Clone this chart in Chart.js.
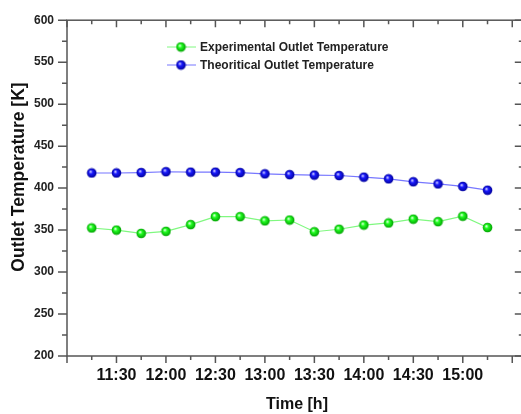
<!DOCTYPE html>
<html>
<head>
<meta charset="utf-8">
<script src="https://cdn.jsdelivr.net/npm/chart.js@4.4.0/dist/chart.umd.min.js"></script>
<style>
  html, body { margin: 0; padding: 0; background: #fff; overflow: hidden; }
  #wrap { width: 521px; height: 414px; overflow: hidden; }
</style>
</head>
<body>
<div id="wrap"><canvas id="myChart" width="529" height="414"></canvas></div>
<script>
// Outlet temperature vs time

const times = ['11:15', '11:30', '11:45', '12:00', '12:15', '12:30', '12:45', '13:00', '13:15',
    '13:30', '13:45', '14:00', '14:15', '14:30', '14:45', '15:00', '15:15'];
const experimental = [352.5, 350, 346, 348.5, 356.5, 366, 366, 361, 362, 348, 351, 356, 358.5, 363, 360, 366.5, 353];
const theoretical = [418, 418, 418.5, 419.5, 419, 419, 418.5, 417, 416, 415.5, 415, 413, 411, 407.5, 405, 402, 397.5];

const xTickLabels = ['11:00', '11:15', '11:30', '11:45', '12:00', '12:15', '12:30', '12:45', '13:00', '13:15',
    '13:30', '13:45', '14:00', '14:15', '14:30', '14:45', '15:00', '15:15', '15:30'];
const xShownLabels = ['11:30', '12:00', '12:30', '13:00', '13:30', '14:00', '14:30', '15:00'];
const yTickValues = [200, 225, 250, 275, 300, 325, 350, 375, 400, 425, 450, 475, 500, 525, 550, 575, 600];
const yShownLabels = [200, 250, 300, 350, 400, 450, 500, 550, 600];

const FONT = "'Liberation Sans', Arial, sans-serif";

function toMin(t) {
    const p = t.split(':');
    return parseInt(p[0]) * 60 + parseInt(p[1]);
}
function toLabel(m) {
    const h = Math.floor(m / 60);
    const mm = m % 60;
    return h + ':' + (mm < 10 ? '0' + mm : mm);
}

// shaded ball markers
function makeBall(light, mid, dark) {
    const c = document.createElement('canvas');
    const r = 4.8;
    c.width = 11; c.height = 11;
    const g = c.getContext('2d');
    const grad = g.createRadialGradient(4.2, 4.0, 0.3, 5.5, 5.5, r);
    grad.addColorStop(0, light);
    grad.addColorStop(0.35, mid);
    grad.addColorStop(1, dark);
    g.fillStyle = grad;
    g.beginPath();
    g.arc(5.5, 5.5, r, 0, Math.PI * 2);
    g.fill();
    return c;
}
const greenBall = makeBall('#eaffea', '#22ff22', '#00a000');
const blueBall = makeBall('#d8d8ff', '#1a1aff', '#00009a');

const frameTicks = {
    id: 'frameTicks',
    afterDraw(chart) {
        const ctx = chart.ctx;
        const a = chart.chartArea;
        const xs = chart.scales.x, ys = chart.scales.y;
        ctx.save();
        ctx.strokeStyle = '#555';
        ctx.lineWidth = 1.5;
        ctx.strokeRect(a.left, a.top, a.right - a.left, a.bottom - a.top);
        ctx.beginPath();
        xTickLabels.forEach(t => {
            const m = toMin(t);
            const x = xs.getPixelForValue(m);
            const len = m % 30 === 0 ? 7 : 4;
            ctx.moveTo(x, a.bottom); ctx.lineTo(x, a.bottom + len);
            ctx.moveTo(x, a.top); ctx.lineTo(x, a.top + len);
        });
        yTickValues.forEach(v => {
            const y = ys.getPixelForValue(v);
            const len = v % 50 === 0 ? 9 : 5;
            ctx.moveTo(a.left - len, y); ctx.lineTo(a.left, y);
            ctx.moveTo(a.right - len, y); ctx.lineTo(a.right, y);
        });
        ctx.stroke();

        // axis titles
        ctx.fillStyle = '#111';
        ctx.textAlign = 'center';
        ctx.textBaseline = 'middle';
        ctx.font = 'bold 16px ' + FONT;
        ctx.fillText('Time [h]', 297, 405);
        ctx.save();
        ctx.translate(19, 177);
        ctx.rotate(-Math.PI / 2);
        ctx.font = 'bold 17.5px ' + FONT;
        ctx.fillText('Outlet Temperature [K]', 0, 0);
        ctx.restore();

        // legend
        ctx.font = 'bold 12px ' + FONT;
        ctx.textAlign = 'left';
        chart.data.datasets.forEach((ds, i) => {
            const y = 47 + i * 18;
            ctx.strokeStyle = ds.borderColor;
            ctx.lineWidth = 1;
            ctx.beginPath();
            ctx.moveTo(167, y); ctx.lineTo(196, y);
            ctx.stroke();
            ctx.drawImage(ds.pointStyle, 181 - 5.5, y - 5.5);
            ctx.fillStyle = '#222';
            ctx.fillText(ds.label, 200, y + 1);
        });
        ctx.restore();
    }
};

const ctx = document.getElementById('myChart').getContext('2d');
const myChart = new Chart(ctx, {
    type: 'line',
    data: {
        datasets: [{
            label: 'Experimental Outlet Temperature',
            data: times.map((t, i) => ({ x: toMin(t), y: experimental[i] })),
            borderColor: '#80f880',
            borderWidth: 1.2,
            pointStyle: greenBall,
            tension: 0
        }, {
            label: 'Theoritical Outlet Temperature',
            data: times.map((t, i) => ({ x: toMin(t), y: theoretical[i] })),
            borderColor: '#7777ff',
            borderWidth: 1.2,
            pointStyle: blueBall,
            tension: 0
        }]
    },
    options: {
        responsive: false,
        animation: false,
        layout: { padding: { top: 16, right: 0, left: 0, bottom: 0 } },
        plugins: {
            legend: { display: false },
            tooltip: { enabled: false }
        },
        scales: {
            x: {
                type: 'linear',
                min: 660,
                max: 937,
                afterBuildTicks(scale) {
                    scale.ticks = xTickLabels.map(t => ({ value: toMin(t) }));
                },
                afterFit(scale) { scale.height = 58; },
                ticks: {
                    autoSkip: false,
                    maxRotation: 0,
                    padding: 10,
                    color: '#111',
                    font: { family: FONT, size: 16, weight: 'bold' },
                    callback: v => xShownLabels.includes(toLabel(v)) ? toLabel(v) : ''
                },
                grid: { display: false, drawTicks: false },
                border: { display: false }
            },
            y: {
                min: 200,
                max: 600,
                afterBuildTicks(scale) {
                    scale.ticks = yTickValues.map(v => ({ value: v }));
                },
                afterFit(scale) { scale.width = 67; },
                ticks: {
                    autoSkip: false,
                    padding: 13,
                    color: '#222',
                    font: { family: FONT, size: 12, weight: 'bold' },
                    callback: v => yShownLabels.includes(v) ? String(v) : ''
                },
                grid: { display: false, drawTicks: false },
                border: { display: false }
            }
        }
    },
    plugins: [frameTicks]
});
</script>
</body>
</html>
